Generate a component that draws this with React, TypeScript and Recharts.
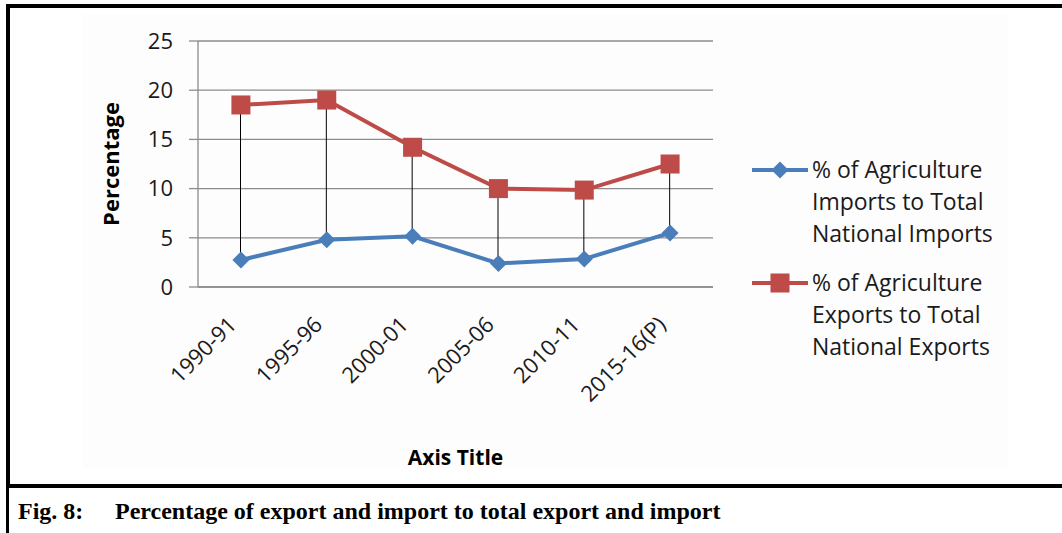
import {
  ComposedChart,
  Line,
  Bar,
  XAxis,
  YAxis,
  CartesianGrid,
  Label,
} from "recharts";

const years = ["1990-91", "1995-96", "2000-01", "2005-06", "2010-11", "2015-16(P)"];
const importShare = [2.75, 4.8, 5.15, 2.4, 2.85, 5.5];
const exportShare = [18.5, 19.0, 14.2, 10.0, 9.85, 12.5];
const yTicks = [0, 5, 10, 15, 20, 25];
const importLegend = ["% of Agriculture", "Imports to Total", "National Imports"];
const exportLegend = ["% of Agriculture", "Exports to Total", "National Exports"];

const BLUE = "#4a7ebb";
const RED = "#be4b48";
const GRID = "#8c8c8c";
const SANS = "'Open Sans', 'DejaVu Sans', sans-serif";

const data = years.map((year, i) => ({
  year,
  imports: importShare[i],
  exports: exportShare[i],
}));

const series = [
  { key: "imports", color: BLUE, shape: "diamond", lines: importLegend },
  { key: "exports", color: RED, shape: "square", lines: exportLegend },
];

function marker(shape: string, color: string, cx: number, cy: number, key?: string) {
  if (shape === "diamond") {
    const r = 8.5;
    return (
      <path
        key={key}
        d={`M${cx},${cy - r}L${cx + r},${cy}L${cx},${cy + r}L${cx - r},${cy}Z`}
        fill={color}
      />
    );
  }
  const h = 9.5;
  return <rect key={key} x={cx - h} y={cy - h} width={h * 2} height={h * 2} fill={color} />;
}

// eslint-disable-next-line @typescript-eslint/no-explicit-any
function YearTick({ x, y, payload }: any) {
  const ax = x - 3;
  const ay = y + 39;
  return (
    <text
      x={ax}
      y={ay}
      textAnchor="end"
      transform={`rotate(-45 ${ax} ${ay})`}
      fontSize={22}
      fontFamily={SANS}
      fill="#1a1a1a"
    >
      {payload.value}
    </text>
  );
}

function SideLegend() {
  return (
    <svg
      width={1062}
      height={533}
      style={{ position: "absolute", left: 0, top: 0, pointerEvents: "none" }}
    >
      {series.map((s, i) => {
        const my = 170 + i * 113;
        return (
          <g key={s.key}>
            <line x1={752} x2={808} y1={my} y2={my} stroke={s.color} strokeWidth={4} />
            {marker(s.shape, s.color, 780, my)}
            {s.lines.map((t, j) => (
              <text
                key={t}
                x={812}
                y={my + 8 + j * 32}
                fontSize={23}
                fontFamily={SANS}
                fill="#1a1a1a"
              >
                {t}
              </text>
            ))}
          </g>
        );
      })}
    </svg>
  );
}

export default function App() {
  return (
    <div
      style={{
        position: "absolute",
        left: 0,
        top: 0,
        width: 1062,
        height: 533,
        background: "#fff",
        overflow: "hidden",
      }}
    >
      <div
        style={{
          position: "absolute",
          left: 83,
          top: 14,
          width: 925,
          height: 454,
          background: "#fdfdfd",
        }}
      />
      <div
        style={{
          position: "absolute",
          left: 6,
          top: 4,
          width: 1062,
          height: 484,
          boxSizing: "border-box",
          borderTop: "4px solid #000",
          borderLeft: "4px solid #000",
          borderBottom: "4px solid #000",
        }}
      />
      <div
        style={{
          position: "absolute",
          left: 6,
          top: 488,
          width: 3,
          height: 45,
          background: "#000",
        }}
      />
      <div style={{ position: "absolute", left: 0, top: 0 }}>
        <ComposedChart
          width={1062}
          height={533}
          data={data}
          margin={{ top: 41, right: 349, bottom: 66, left: 88 }}
        >
          <CartesianGrid vertical={false} stroke={GRID} strokeWidth={1.3} />
          <XAxis
            dataKey="year"
            interval={0}
            height={180}
            tickLine={false}
            tickSize={0}
            tickMargin={0}
            axisLine={{ stroke: GRID, strokeWidth: 1.3 }}
            tick={<YearTick />}
          >
            <Label
              value="Axis Title"
              position="insideBottom"
              offset={2}
              style={{ fontFamily: SANS, fontSize: 21, fontWeight: 700, fill: "#000" }}
            />
          </XAxis>
          <YAxis
            width={110}
            domain={[0, 25]}
            ticks={yTicks}
            interval={0}
            tickSize={9}
            tickMargin={16}
            axisLine={{ stroke: GRID, strokeWidth: 1.3 }}
            tickLine={{ stroke: GRID, strokeWidth: 1.3 }}
            tick={{ fontFamily: SANS, fontSize: 22, fill: "#1a1a1a" }}
          >
            <Label
              value="Percentage"
              angle={-90}
              position="insideLeft"
              offset={23}
              style={{
                textAnchor: "middle",
                fontFamily: SANS,
                fontSize: 22,
                fontWeight: 700,
                fill: "#000",
              }}
            />
          </YAxis>
          {series.map((s) => (
            <Line
              key={s.key}
              type="linear"
              dataKey={s.key}
              stroke={s.color}
              strokeWidth={4}
              // eslint-disable-next-line @typescript-eslint/no-explicit-any
              dot={(p: any) => marker(s.shape, s.color, p.cx, p.cy, `${s.key}-${p.index}`)}
              activeDot={false}
              isAnimationActive={false}
            />
          ))}
          <Bar
            dataKey={(d: { imports: number; exports: number }) => [d.imports, d.exports]}
            barSize={1}
            fill="#000"
            isAnimationActive={false}
          />
        </ComposedChart>
      </div>
      <SideLegend />
      <div
        style={{
          position: "absolute",
          left: 18,
          top: 498,
          fontFamily: "'Liberation Serif', 'Times New Roman', serif",
          fontWeight: 700,
          fontSize: 24,
          lineHeight: "26px",
          color: "#000",
          whiteSpace: "nowrap",
        }}
      >
        <span>Fig. 8:</span>
        <span style={{ position: "absolute", left: 97 }}>
          Percentage of export and import to total export and import
        </span>
      </div>
    </div>
  );
}
